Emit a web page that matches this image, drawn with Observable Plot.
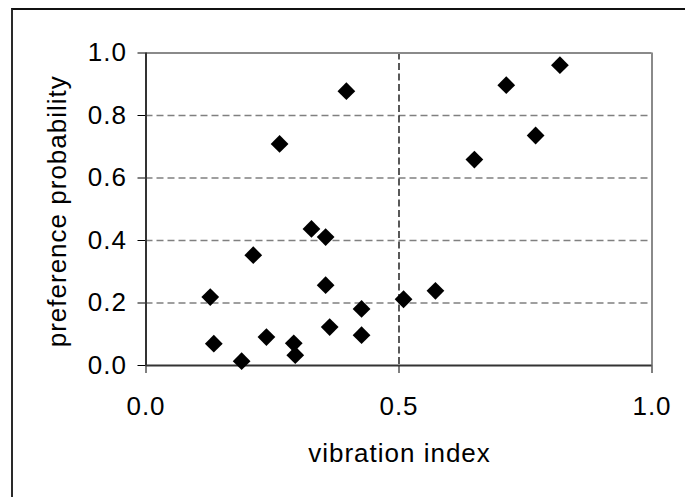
<!DOCTYPE html>
<html>
<head>
<meta charset="utf-8">
<script src="https://cdn.jsdelivr.net/npm/d3@7"></script>
<script src="https://cdn.jsdelivr.net/npm/@observablehq/plot@0.6"></script>
<style>
  html, body { margin: 0; padding: 0; background: #fff; overflow: hidden; }
  #wrap { position: relative; width: 685px; height: 497px; overflow: hidden; }
  #outer { position: absolute; left: 11px; top: 8px; width: 700px; height: 520px;
           border-top: 2px solid #111; border-left: 2px solid #2a2a2a; pointer-events: none; }
</style>
</head>
<body>
<div id="wrap"><div id="outer"></div></div>
<script>
const vibrationIndex = [0.127,0.134,0.189,0.212,0.238,0.264,0.292,0.295,0.327,0.355,0.355,0.363,0.396,0.426,0.426,0.509,0.572,0.649,0.712,0.770,0.818];
const preferenceProbability = [0.219,0.070,0.014,0.353,0.091,0.709,0.071,0.033,0.437,0.411,0.257,0.123,0.878,0.181,0.097,0.212,0.239,0.659,0.897,0.736,0.961];
const xTicks = [0, 0.5, 1];
const yTicks = [0, 0.2, 0.4, 0.6, 0.8, 1];
const yGrid = [0.2, 0.4, 0.6, 0.8];
const xLabel = "vibration index";
const yLabel = "preference probability";

const data = vibrationIndex.map((x, i) => ({x, y: preferenceProbability[i]}));
const fmt = d3.format(".1f");

const chart = Plot.plot({
  width: 685,
  height: 497,
  marginLeft: 145.5,
  marginRight: 33.5,
  marginTop: 52.5,
  marginBottom: 132,
  style: {fontFamily: "Liberation Sans, Arial, sans-serif", fontSize: "26px", letterSpacing: "1px", background: "transparent", color: "#000"},
  x: {domain: [0, 1]},
  y: {domain: [0, 1]},
  marks: [
    Plot.ruleY(yGrid, {stroke: "#808080", strokeWidth: 1.3, strokeDasharray: "7,4"}),
    Plot.ruleX([0.5], {stroke: "#000", strokeWidth: 1.3, strokeDasharray: "7,3.5"}),
    Plot.ruleY([1], {stroke: "#8a8a8a", strokeWidth: 2}),
    Plot.ruleX([1], {stroke: "#8a8a8a", strokeWidth: 2}),
    Plot.axisX({ticks: xTicks, tickFormat: fmt, tickSize: 8, tickPadding: 23, label: null, stroke: "#000"}),
    Plot.axisY({ticks: yTicks, tickFormat: fmt, tickSize: 8, tickPadding: 11, label: null, stroke: "#000"}),
    Plot.ruleX([0], {stroke: "#333", strokeWidth: 2}),
    Plot.ruleY([0], {stroke: "#333", strokeWidth: 2}),
    Plot.dot(data, {x: "x", y: "y", symbol: "diamond2", r: 8, fill: "#000", stroke: null}),
    Plot.text([xLabel], {frameAnchor: "bottom", lineAnchor: "bottom", textAnchor: "middle", dx: 0.5, dy: 96.7, fill: "#000"}),
    Plot.text([yLabel], {frameAnchor: "left", lineAnchor: "bottom", textAnchor: "middle", rotate: -90, dx: -79.8, dy: 2, fill: "#000"})
  ]
});
chart.style.position = "absolute";
chart.style.left = "0px";
chart.style.top = "0px";
document.getElementById("wrap").prepend(chart);
</script>
</body>
</html>
